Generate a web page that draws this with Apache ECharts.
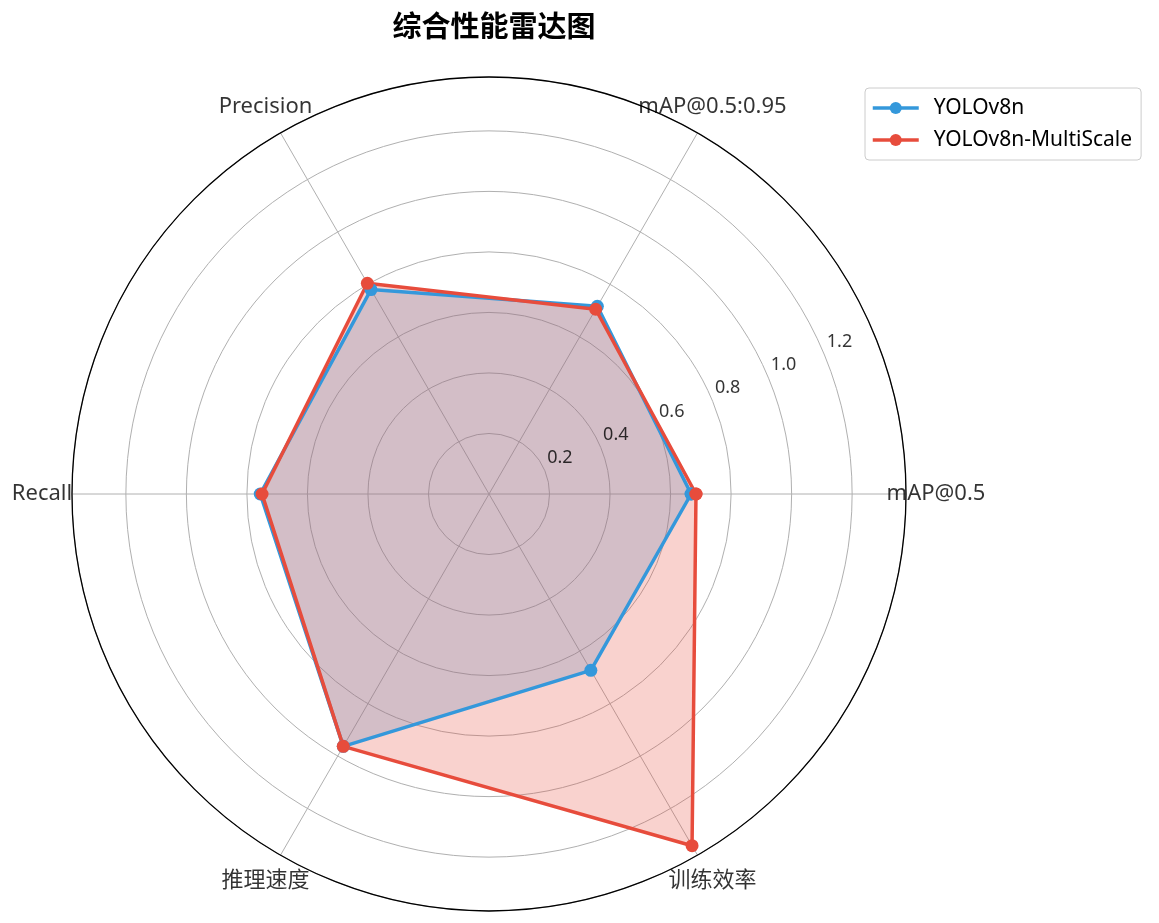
<!DOCTYPE html>
<html>
<head>
<meta charset="utf-8">
<title>综合性能雷达图</title>
<script src="https://cdn.jsdelivr.net/npm/echarts@6/dist/echarts.min.js"></script>
<style>
    html, body { margin: 0; padding: 0; background: #fff; }
    #main { width: 1159px; height: 923px; }
</style>
</head>
<body>
<div id="main"></div>
<script>
// 指标与数据
var categories = ['mAP@0.5', 'mAP@0.5:0.95', 'Precision', 'Recall', '推理速度', '训练效率'];
var seriesNames = ['YOLOv8n', 'YOLOv8n-MultiScale'];
var yolov8n = [0.668, 0.716, 0.780, 0.756, 0.963, 0.673];
var multiScale = [0.684, 0.705, 0.804, 0.750, 0.963, 1.342];
var radiusTicks = [0.2, 0.4, 0.6, 0.8, 1.0, 1.2];
var radiusMax = 1.378;

var font = "'Noto Sans', 'Noto Sans CJK SC', sans-serif";
var step = 360 / categories.length;
// 指标名放在外圈稍外的位置（以半径刻度计）
var nameRadius = radiusMax * 447 / 417;

// [半径, 角度]，末尾补上第一个点使折线闭合
function toPolar(values) {
    var pts = values.map(function(v, i) {
        return [v, i * step];
    });
    pts.push([values[0], 360]);
    return pts;
}

function lineSeries(name, values, color) {
    return {
        name: name,
        type: 'line',
        coordinateSystem: 'polar',
        data: toPolar(values),
        symbol: 'circle',
        symbolSize: 13,
        lineStyle: { color: color, width: 3.5 },
        itemStyle: { color: color },
        areaStyle: { color: color, opacity: 0.25 },
        z: 2
    };
}

var myChart = echarts.init(document.getElementById('main'));
var option = {
    backgroundColor: '#fff',
    animation: false,
    textStyle: { fontFamily: font },
    title: {
        text: '综合性能雷达图',
        left: 489,
        textAlign: 'center',
        top: 6,
        textStyle: { fontSize: 29, fontWeight: 'bold', color: '#000', fontFamily: "'Noto Sans CJK SC', sans-serif" }
    },
    legend: {
        data: seriesNames,
        orient: 'vertical',
        left: 865,
        top: 88,
        padding: [9, 9, 9, 6],
        itemGap: 10,
        itemWidth: 46,
        itemHeight: 15,
        borderColor: '#cccccc',
        borderWidth: 1,
        borderRadius: 4,
        lineStyle: { width: 3.5 },
        textStyle: { fontSize: 21, color: '#000', padding: [0, 0, 0, 10], lineHeight: 22 }
    },
    polar: {
        center: [489, 494],
        radius: 417
    },
    angleAxis: {
        type: 'value',
        min: 0,
        max: 360,
        interval: 60,
        startAngle: 0,
        clockwise: false,
        z: 1,
        axisLine: { lineStyle: { color: '#000', width: 1.3 } },
        axisTick: { show: false },
        axisLabel: { show: false },
        splitLine: { lineStyle: { color: '#b0b0b0', width: 1 } }
    },
    radiusAxis: {
        type: 'value',
        min: 0,
        max: radiusMax,
        interval: 0.2,
        z: 0,
        axisLine: { show: false },
        axisTick: { show: false },
        axisLabel: { show: false },
        splitLine: { lineStyle: { color: '#b0b0b0', width: 1 } }
    },
    series: [
        lineSeries(seriesNames[0], yolov8n, '#3498db'),
        lineSeries(seriesNames[1], multiScale, '#e74c3c'),
        {
            // 径向刻度标签，放在22.5°方向
            type: 'scatter',
            coordinateSystem: 'polar',
            silent: true,
            symbolSize: 0,
            z: 5,
            data: radiusTicks.map(function(t) { return [t, 22.5]; }),
            label: {
                show: true,
                position: 'inside',
                offset: [15, -13],
                fontSize: 18,
                color: '#000',
                formatter: function(p) { return p.value[0].toFixed(1); }
            }
        },
        {
            // 指标名，居中放在外圈外侧
            type: 'scatter',
            coordinateSystem: 'polar',
            silent: true,
            clip: false,
            symbolSize: 0,
            z: 5,
            data: categories.map(function(c, i) { return [nameRadius, i * step]; }),
            label: {
                show: true,
                position: 'inside',
                fontSize: 22,
                color: '#000',
                formatter: function(p) { return categories[p.dataIndex]; }
            }
        }
    ]
};
myChart.setOption(option);
</script>
</body>
</html>
